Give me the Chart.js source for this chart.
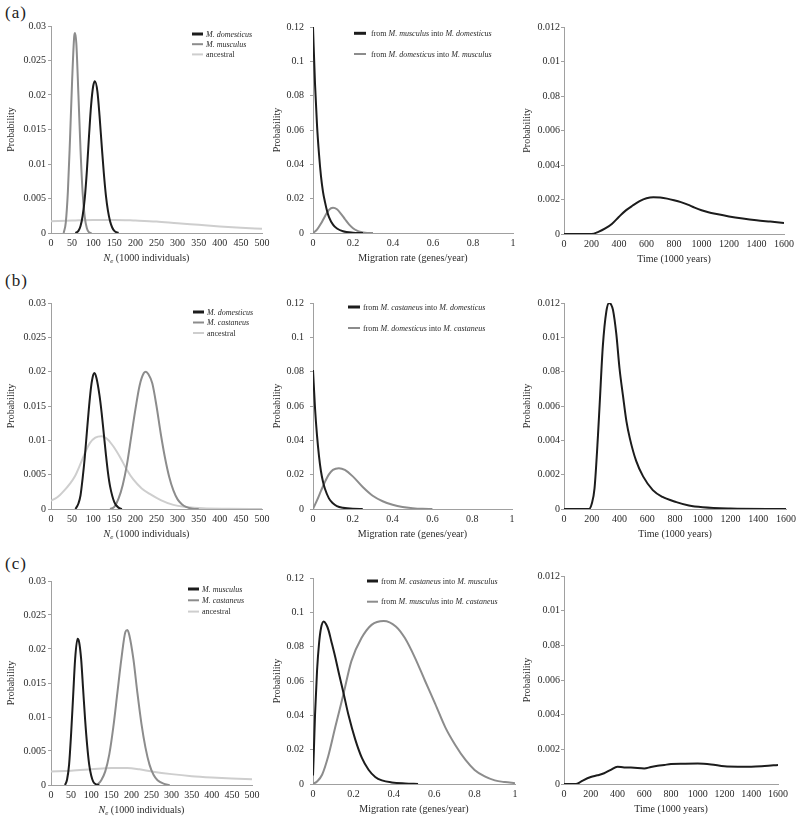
<!DOCTYPE html>
<html><head><meta charset="utf-8">
<style>
html,body{margin:0;padding:0;background:#fff;}
body{width:800px;height:819px;position:relative;overflow:hidden;font-family:'Liberation Serif','Times New Roman',serif;}
canvas{position:absolute;}
.plab{position:absolute;font-size:17px;color:#222;letter-spacing:1px;line-height:1;font-family:'Liberation Serif','Times New Roman',serif;}
</style>
<script src="https://cdn.jsdelivr.net/npm/chart.js@4.4.1/dist/chart.umd.min.js"></script>
</head><body>
<div class="plab" style="left:5px;top:4px">(a)</div>
<div class="plab" style="left:5px;top:272px">(b)</div>
<div class="plab" style="left:5px;top:555px">(c)</div>
<script>
// ---------- tick labels ----------
const neXLabels = ['0','50','100','150','200','250','300','350','400','450','500'];
const neYLabels = ['0','0.005','0.01','0.015','0.02','0.025','0.03'];
const migXLabels = ['0','0.2','0.4','0.6','0.8','1'];
const migYLabels = ['0','0.02','0.04','0.06','0.08','0.1','0.12'];
const timeXLabels = ['0','200','400','600','800','1000','1200','1400','1600'];
const timeYLabels = ['0','0.002','0.004','0.006','0.08','0.01','0.012'];

// ---------- row (a) ----------
const aNeDomX = [58, 65, 70, 75, 80, 85, 90, 95, 100, 104, 110, 115, 120, 125, 130, 135, 140, 145, 150, 160];
const aNeDomY = [0, 0.0003, 0.001, 0.0025, 0.005, 0.009, 0.014, 0.0185, 0.0213, 0.022, 0.0205, 0.017, 0.0128, 0.0088, 0.0055, 0.0032, 0.0017, 0.0008, 0.0003, 0];
const aNeMusX = [30, 35, 40, 45, 50, 55, 57, 60, 65, 70, 75, 80, 85, 90, 96];
const aNeMusY = [0, 0.0015, 0.006, 0.0135, 0.022, 0.0285, 0.029, 0.0275, 0.02, 0.012, 0.0058, 0.0023, 0.0007, 0.0001, 0];
const aNeAncX = [0, 50, 100, 150, 200, 250, 300, 350, 400, 450, 500];
const aNeAncY = [0.0017, 0.0018, 0.0019, 0.0019, 0.0018, 0.00166, 0.0014, 0.00118, 0.00095, 0.00075, 0.0006];

const aMigMusDomX = [0, 0.01, 0.02, 0.03, 0.04, 0.05, 0.06, 0.07, 0.08, 0.1, 0.12, 0.15, 0.2, 0.25];
const aMigMusDomY = [0.12, 0.087, 0.063, 0.046, 0.033, 0.024, 0.018, 0.013, 0.0093, 0.0049, 0.0026, 0.001, 0.0002, 0];
const aMigDomMusX = [0, 0.02, 0.04, 0.06, 0.08, 0.1, 0.12, 0.14, 0.16, 0.18, 0.2, 0.22, 0.24, 0.26, 0.3];
const aMigDomMusY = [0, 0.002, 0.0055, 0.0098, 0.0135, 0.0147, 0.0138, 0.0112, 0.008, 0.005, 0.0028, 0.0014, 0.0006, 0.0002, 0];

const aTimeX = [0, 200, 250, 300, 350, 400, 450, 500, 550, 600, 650, 700, 750, 800, 850, 900, 950, 1000, 1050, 1100, 1200, 1300, 1400, 1500, 1600];
const aTimeY = [0, 0, 0.00012, 0.00032, 0.0006, 0.001, 0.00137, 0.00165, 0.0019, 0.00207, 0.00213, 0.00211, 0.00205, 0.00196, 0.00185, 0.0017, 0.00153, 0.00138, 0.00126, 0.00117, 0.00102, 0.0009, 0.0008, 0.00072, 0.00064];

// ---------- row (b) ----------
const bNeDomX = [58, 65, 70, 75, 80, 85, 90, 95, 100, 103, 108, 115, 120, 125, 130, 135, 140, 150, 160, 168];
const bNeDomY = [0, 0.0008, 0.002, 0.0045, 0.0075, 0.0112, 0.0148, 0.0178, 0.0195, 0.0198, 0.019, 0.0165, 0.014, 0.011, 0.008, 0.0053, 0.0033, 0.001, 0.0002, 0];
const bNeCasX = [140, 150, 160, 170, 180, 190, 200, 210, 220, 225, 230, 240, 250, 260, 270, 280, 290, 300, 310, 320, 335, 350];
const bNeCasY = [0, 0.0003, 0.0015, 0.0035, 0.0065, 0.0105, 0.0145, 0.018, 0.0198, 0.02, 0.0197, 0.0183, 0.015, 0.011, 0.0075, 0.0047, 0.0027, 0.0014, 0.0007, 0.0003, 0.00005, 0];
const bNeAncX = [0, 15, 30, 45, 57, 70, 80, 92, 105, 120, 135, 148, 165, 179, 195, 215, 234, 260, 290, 320, 360, 420, 500];
const bNeAncY = [0.0012, 0.0017, 0.0026, 0.0037, 0.0048, 0.0066, 0.0081, 0.0096, 0.0104, 0.0106, 0.0101, 0.0091, 0.0074, 0.0058, 0.0043, 0.003, 0.0022, 0.0013, 0.0006, 0.0003, 0.0001, 0.00003, 0];

const bMigCasDomX = [0, 0.01, 0.02, 0.03, 0.04, 0.05, 0.06, 0.08, 0.1, 0.12, 0.15, 0.2, 0.25];
const bMigCasDomY = [0.081, 0.059, 0.043, 0.031, 0.022, 0.016, 0.0118, 0.0062, 0.0033, 0.0017, 0.0007, 0.0001, 0];
const bMigDomCasX = [0, 0.02, 0.04, 0.06, 0.08, 0.1, 0.13, 0.16, 0.2, 0.25, 0.3, 0.35, 0.4, 0.45, 0.5, 0.55, 0.6];
const bMigDomCasY = [0, 0.005, 0.0105, 0.0158, 0.0202, 0.0228, 0.0238, 0.0228, 0.019, 0.0128, 0.0077, 0.0045, 0.0025, 0.0012, 0.0005, 0.0001, 0];

const bTimeX = [0, 180, 200, 220, 245, 257, 280, 305, 325, 340, 353, 377, 400, 425, 450, 475, 520, 570, 640, 710, 810, 900, 1000, 1200, 1600];
const bTimeY = [0, 0, 0.0003, 0.0012, 0.0043, 0.0061, 0.0095, 0.0115, 0.012, 0.0119, 0.0116, 0.0102, 0.0082, 0.0066, 0.0051, 0.0041, 0.0028, 0.0019, 0.0011, 0.0007, 0.0004, 0.0002, 0.0001, 0.00003, 0];

// ---------- row (c) ----------
const cNeMusX = [35, 40, 45, 50, 55, 60, 66, 70, 75, 80, 85, 90, 95, 100, 105, 112, 120];
const cNeMusY = [0, 0.0008, 0.003, 0.0075, 0.013, 0.0185, 0.0215, 0.021, 0.0185, 0.014, 0.0095, 0.0058, 0.003, 0.0014, 0.0005, 0.0001, 0];
const cNeCasX = [115, 125, 135, 145, 155, 165, 175, 185, 190, 195, 205, 215, 225, 235, 245, 255, 265, 280, 295];
const cNeCasY = [0, 0.0007, 0.002, 0.0045, 0.0085, 0.0135, 0.0185, 0.0225, 0.0228, 0.022, 0.0185, 0.0135, 0.009, 0.0055, 0.003, 0.0015, 0.0007, 0.0002, 0];
const cNeAncX = [0, 50, 100, 150, 190, 220, 250, 300, 350, 400, 450, 500];
const cNeAncY = [0.002, 0.0021, 0.0023, 0.0025, 0.0025, 0.0023, 0.002, 0.0016, 0.0013, 0.0011, 0.00095, 0.00085];

const cMigCasMusX = [0, 0.005, 0.01, 0.02, 0.03, 0.04, 0.053, 0.065, 0.077, 0.09, 0.11, 0.13, 0.151, 0.176, 0.209, 0.242, 0.275, 0.308, 0.341, 0.39, 0.456, 0.52];
const cMigCasMusY = [0.005, 0.022, 0.04, 0.066, 0.082, 0.091, 0.0947, 0.093, 0.0895, 0.0835, 0.074, 0.0635, 0.053, 0.04, 0.026, 0.0152, 0.0083, 0.0041, 0.0021, 0.0009, 0.0003, 0];
const cMigMusCasX = [0, 0.02, 0.045, 0.075, 0.11, 0.15, 0.19, 0.24, 0.29, 0.35, 0.41, 0.455, 0.505, 0.555, 0.605, 0.655, 0.705, 0.755, 0.8, 0.85, 0.9, 0.95, 1];
const cMigMusCasY = [0, 0.0015, 0.0054, 0.016, 0.033, 0.052, 0.0716, 0.085, 0.0927, 0.095, 0.0918, 0.085, 0.0735, 0.06, 0.0467, 0.033, 0.0226, 0.014, 0.0082, 0.0044, 0.0021, 0.0011, 0.0005];

const cTimeX = [0, 90, 140, 200, 250, 300, 350, 400, 450, 500, 600, 650, 700, 750, 800, 900, 1000, 1100, 1200, 1300, 1400, 1500, 1600];
const cTimeY = [0, 0, 0.0002, 0.0004, 0.0005, 0.00062, 0.00082, 0.001, 0.00095, 0.00095, 0.0009, 0.00098, 0.00105, 0.0011, 0.00115, 0.00117, 0.00118, 0.00113, 0.00102, 0.001, 0.001, 0.00104, 0.0011];

// ---------- styling ----------
const FONT = "'Liberation Serif', 'Times New Roman', serif";
const BLACK = '#1c1c1c', GRAY = '#8c8c8c', LIGHT = '#cecece', AXIS = '#a0a0a0', TEXT = '#2a2a2a';

const KINDS = {
  ne:   {xMax: 500, xStep: 50, xLabels: neXLabels, yMax: 0.03, yStep: 0.005, yLabels: neYLabels, xTitle: ''},
  mig:  {xMax: 1, xStep: 0.2, xLabels: migXLabels, yMax: 0.12, yStep: 0.02, yLabels: migYLabels, xTitle: 'Migration rate (genes/year)'},
  time: {xMax: 1600, xStep: 200, xLabels: timeXLabels, yMax: 0.012, yStep: 0.002, yLabels: timeYLabels, xTitle: 'Time (1000 years)'}
};

function drawRich(ctx, text, x, y, size) {
  const parts = text.split(/(M\. [a-z]+)/);
  let cx = x;
  parts.forEach((p, i) => {
    if (!p) return;
    ctx.font = (i % 2 === 1 ? 'italic ' : '') + size + 'px ' + FONT;
    ctx.fillText(p, cx, y);
    cx += ctx.measureText(p).width;
  });
}

const legendPlugin = {
  id: 'richLegend',
  afterDraw(chart, args, o) {
    if (!o || !o.show) return;
    const ctx = chart.ctx;
    ctx.save();
    ctx.textBaseline = 'middle';
    ctx.textAlign = 'left';
    ctx.fillStyle = TEXT;
    chart.data.datasets.forEach((ds, i) => {
      const y = o.y + i * o.dy;
      ctx.strokeStyle = ds.borderColor;
      ctx.lineWidth = ds.legendWidth || 2;
      ctx.beginPath(); ctx.moveTo(o.x, y); ctx.lineTo(o.x + o.len, y); ctx.stroke();
      drawRich(ctx, ds.label, o.x + o.len + o.gap, y + 0.5, o.size);
    });
    ctx.restore();
  }
};

const neTitlePlugin = {
  id: 'neTitle',
  afterDraw(chart, args, o) {
    if (!o || !o.show) return;
    const ctx = chart.ctx, a = chart.chartArea;
    const s = 10;
    const y = a.bottom + 25;
    ctx.save();
    ctx.fillStyle = TEXT; ctx.textBaseline = 'middle'; ctx.textAlign = 'left';
    const fN = 'italic ' + s + 'px ' + FONT, fe = 'italic 7px ' + FONT, fr = s + 'px ' + FONT;
    const rest = ' (1000 individuals)';
    ctx.font = fN; const wN = ctx.measureText('N').width;
    ctx.font = fe; const we = ctx.measureText('e').width;
    ctx.font = fr; const wr = ctx.measureText(rest).width;
    let x = (a.left + a.right) / 2 + o.dx - (wN + we + wr) / 2;
    ctx.font = fN; ctx.fillText('N', x, y); x += wN;
    ctx.font = fe; ctx.fillText('e', x, y + 3); x += we;
    ctx.font = fr; ctx.fillText(rest, x, y);
    ctx.restore();
  }
};

const panels = [
  {kind:'ne', area:[51,26,262,233], yw:51, tp:5, lp:2, legend:{x:192,y:34,dy:10.2,len:11,gap:3},
   series:[{label:'M. domesticus', xs:aNeDomX, ys:aNeDomY, color:BLACK, legW:3},
           {label:'M. musculus', xs:aNeMusX, ys:aNeMusY, color:GRAY},
           {label:'ancestral', xs:aNeAncX, ys:aNeAncY, color:LIGHT}]},
  {kind:'mig', area:[313,25,513,233], yw:45, tp:3, lp:6, legend:{x:354,y:33.3,dy:20.7,len:12,gap:5},
   series:[{label:'from M. musculus into M. domesticus', xs:aMigMusDomX, ys:aMigMusDomY, color:BLACK, legW:3},
           {label:'from M. domesticus into M. musculus', xs:aMigDomMusX, ys:aMigDomMusY, color:GRAY}]},
  {kind:'time', area:[564,26.5,784,233], yw:46, tp:3, lp:1, legend:null,
   series:[{label:'Time', xs:aTimeX, ys:aTimeY, color:BLACK}]},

  {kind:'ne', area:[51,303,262,509], yw:51, tp:5, lp:2, legend:{x:193,y:312,dy:10.5,len:11,gap:3},
   series:[{label:'M. domesticus', xs:bNeDomX, ys:bNeDomY, color:BLACK, legW:3},
           {label:'M. castaneus', xs:bNeCasX, ys:bNeCasY, color:GRAY},
           {label:'ancestral', xs:bNeAncX, ys:bNeAncY, color:LIGHT}]},
  {kind:'mig', area:[313,301,512,509], yw:45, tp:3, lp:6, legend:{x:348,y:307,dy:21,len:12,gap:3},
   series:[{label:'from M. castaneus into M. domesticus', xs:bMigCasDomX, ys:bMigCasDomY, color:BLACK, legW:3},
           {label:'from M. domesticus into M. castaneus', xs:bMigDomCasX, ys:bMigDomCasY, color:GRAY}]},
  {kind:'time', area:[564,303,786,509], yw:46, tp:3, lp:1, legend:null,
   series:[{label:'Time', xs:bTimeX, ys:bTimeY, color:BLACK}]},

  {kind:'ne', area:[51,581,252,785], yw:51, tp:5, lp:2, legend:{x:188,y:589,dy:11.3,len:11,gap:3},
   series:[{label:'M. musculus', xs:cNeMusX, ys:cNeMusY, color:BLACK, legW:3},
           {label:'M. castaneus', xs:cNeCasX, ys:cNeCasY, color:GRAY},
           {label:'ancestral', xs:cNeAncX, ys:cNeAncY, color:LIGHT}]},
  {kind:'mig', area:[313,576,515,784], yw:45, tp:3, lp:6, legend:{x:367,y:581,dy:20.7,len:11,gap:3},
   series:[{label:'from M. castaneus into M. musculus', xs:cMigCasMusX, ys:cMigCasMusY, color:BLACK, legW:3},
           {label:'from M. musculus into M. castaneus', xs:cMigMusCasX, ys:cMigMusCasY, color:GRAY}]},
  {kind:'time', area:[564,576,778,784], yw:46, tp:3, lp:1, legend:null,
   series:[{label:'Time', xs:cTimeX, ys:cTimeY, color:BLACK}]}
];

function makeChart(p) {
  const [L, T, R, B] = p.area;
  const PT = 10, PR = 14, XH = 34;
  const left = L - p.yw, top = T - PT;
  const w = Math.round(R - L + p.yw + PR), h = Math.round(B - T + PT + XH);
  const cv = document.createElement('canvas');
  cv.width = w; cv.height = h;
  cv.style.left = left + 'px'; cv.style.top = top + 'px';
  cv.style.width = w + 'px'; cv.style.height = h + 'px';
  document.body.appendChild(cv);
  const k = KINDS[p.kind];
  const lg = p.legend ? {show:true, x:p.legend.x - left, y:p.legend.y - top, dy:p.legend.dy, len:p.legend.len, gap:p.legend.gap, size:8} : {show:false};
  new Chart(cv.getContext('2d'), {
    type: 'line',
    data: {datasets: p.series.map(s => ({
      label: s.label,
      data: s.xs.map((x, i) => ({x: x, y: s.ys[i]})),
      borderColor: s.color, backgroundColor: s.color,
      borderWidth: 2, legendWidth: s.legW || 2,
      pointRadius: 0, cubicInterpolationMode: 'monotone', fill: false
    }))},
    options: {
      responsive: false, animation: false, devicePixelRatio: 1,
      layout: {padding: {top: PT, right: PR, left: 0, bottom: 0}},
      plugins: {
        legend: {display: false}, tooltip: {enabled: false},
        richLegend: lg,
        neTitle: {show: p.kind === 'ne', dx: -10}
      },
      scales: {
        x: {
          type: 'linear', min: 0, max: k.xMax,
          afterFit: s => { s.height = XH; },
          grid: {display: true, drawOnChartArea: false, drawTicks: false},
          border: {display: true, color: AXIS, width: 1},
          ticks: {stepSize: k.xStep, autoSkip: false, maxRotation: 0, padding: 4,
                  font: {family: FONT, size: 10}, color: TEXT,
                  callback: v => k.xLabels[Math.round(v / k.xStep)]},
          title: {display: p.kind !== 'ne', text: k.xTitle, font: {family: FONT, size: 10}, color: TEXT, padding: {top: 0, bottom: 3}}
        },
        y: {
          type: 'linear', min: 0, max: k.yMax,
          afterFit: s => { s.width = p.yw; },
          grid: {display: true, drawOnChartArea: false, drawTicks: true, tickLength: 3, color: AXIS},
          border: {display: true, color: AXIS, width: 1},
          ticks: {stepSize: k.yStep, autoSkip: false, padding: p.lp,
                  font: {family: FONT, size: 10}, color: TEXT,
                  callback: v => k.yLabels[Math.round(v / k.yStep)]},
          title: {display: true, text: 'Probability', font: {family: FONT, size: 10}, color: TEXT, padding: {top: p.tp, bottom: 0}}
        }
      }
    },
    plugins: [legendPlugin, neTitlePlugin]
  });
}

panels.forEach(makeChart);
</script>
</body></html>
